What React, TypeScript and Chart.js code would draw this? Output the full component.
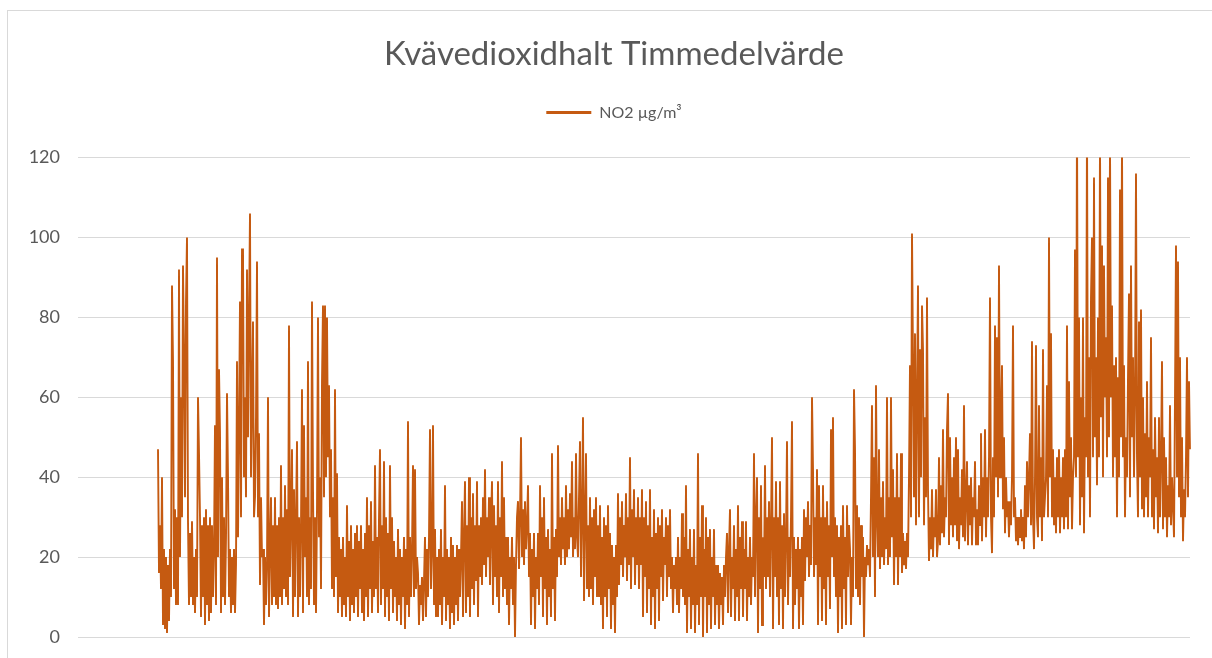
import React, { useEffect, useRef } from 'react';
import { Chart, registerables, layouts } from 'chart.js';

Chart.register(...registerables);

const chartTitle = 'Kvävedioxidhalt Timmedelvärde';
const seriesLabel = 'NO2 µg/m³';
const yAxisMin = 0;
const yAxisMax = 120;
const yAxisStep = 20;
const missingHoursAtStart = 80;

const no2Part1 = [
  47, 16, 28, 12, 40, 3, 22, 2, 20, 1, 18, 4, 22, 10, 88, 69, 12, 32, 8, 30,
  8, 92, 20, 60, 30, 93, 70, 35, 84, 100, 29, 8, 26, 10, 29, 8, 20, 6, 22, 10,
  60, 46, 30, 5, 28, 10, 30, 3, 32, 8, 28, 4, 30, 6, 28, 10, 22, 53, 8, 95,
  20, 67, 51, 6, 40, 10, 30, 8, 25, 61, 40, 10, 22, 6, 20, 8, 22, 6, 18, 69,
  25, 52, 84, 30, 97, 97, 40, 60, 35, 92, 50, 80, 106, 40, 60, 79, 30, 35, 55, 94,
  30, 51, 13, 35, 20, 22, 3, 20, 8, 18, 60, 5, 22, 35, 8, 28, 10, 35, 8, 28,
  7, 30, 10, 43, 8, 30, 12, 38, 10, 32, 8, 78, 15, 30, 47, 5, 37, 10, 30, 49,
  5, 30, 10, 28, 62, 6, 53, 20, 35, 10, 69, 8, 30, 12, 84, 37, 8, 30, 6, 32,
  80, 25, 40, 12, 64, 83, 35, 83, 40, 80, 45, 63, 30, 47, 12, 35, 10, 62, 15, 41,
];
const no2Part2 = [
  6, 25, 10, 22, 5, 25, 8, 20, 5, 33, 10, 24, 4, 28, 8, 22, 6, 26, 10, 28,
  5, 24, 12, 28, 6, 22, 4, 26, 10, 35, 5, 28, 12, 34, 6, 24, 10, 43, 12, 25,
  6, 30, 47, 8, 28, 12, 44, 5, 30, 10, 26, 4, 43, 12, 30, 6, 24, 10, 20, 4,
  27, 8, 22, 3, 20, 10, 25, 2, 22, 8, 54, 5, 25, 10, 22, 43, 10, 42, 12, 20,
  16, 3, 13, 8, 15, 4, 14, 25, 5, 22, 10, 25, 52, 12, 22, 53, 8, 27, 5, 20,
  5, 22, 8, 27, 3, 20, 10, 38, 4, 22, 8, 20, 2, 25, 6, 23, 3, 20, 8, 23,
  4, 22, 10, 20, 34, 5, 25, 39, 6, 28, 10, 40, 5, 30, 12, 36, 8, 28, 14, 39,
  5, 28, 15, 30, 13, 35, 18, 42, 15, 30, 20, 35, 13, 28, 39, 8, 33, 15, 28, 10,
  39, 6, 30, 15, 44, 10, 35, 12, 25, 8, 25, 3, 20, 12, 25, 8, 20, 0, 18, 30,
];
const no2Part3 = [
  34, 17, 30, 50, 20, 32, 18, 34, 22, 28, 38, 15, 26, 3, 22, 10, 26, 2, 20, 12,
  26, 8, 38, 15, 30, 5, 35, 12, 25, 3, 27, 10, 22, 5, 46, 12, 25, 4, 27, 15,
  48, 20, 30, 18, 35, 22, 30, 18, 38, 20, 32, 22, 36, 25, 44, 20, 30, 22, 46, 25,
  20, 35, 49, 15, 30, 55, 9, 30, 46, 12, 28, 10, 35, 12, 30, 8, 32, 15, 35, 10,
  28, 10, 33, 8, 25, 2, 30, 10, 28, 5, 33, 12, 26, 2, 23, 8, 20, 1, 23, 10,
  36, 13, 30, 18, 34, 15, 28, 20, 36, 14, 30, 18, 45, 12, 32, 20, 37, 13, 30, 18,
  35, 12, 30, 18, 37, 5, 30, 15, 34, 6, 28, 12, 37, 3, 25, 10, 32, 2, 26, 12,
  30, 4, 28, 15, 32, 9, 25, 18, 30, 10, 28, 15, 32, 12, 20, 6, 18, 12, 20, 8,
  25, 6, 20, 12, 31, 10, 25, 8, 38, 1, 22, 10, 27, 2, 20, 8, 27, 1, 18, 8,
];
const no2Part4 = [
  46, 3, 25, 10, 33, 0, 22, 10, 30, 1, 25, 8, 27, 2, 20, 10, 27, 3, 18, 8,
  18, 2, 16, 8, 15, 3, 18, 10, 20, 26, 6, 22, 32, 5, 20, 12, 28, 4, 22, 10,
  33, 4, 25, 12, 29, 5, 22, 12, 29, 4, 20, 10, 25, 8, 20, 15, 46, 10, 30, 40,
  1, 30, 12, 38, 3, 25, 15, 43, 12, 30, 15, 34, 10, 28, 50, 2, 30, 15, 39, 10,
  30, 3, 39, 12, 28, 2, 31, 10, 25, 49, 8, 25, 15, 30, 54, 2, 25, 8, 22, 12,
  25, 2, 22, 10, 25, 3, 32, 14, 30, 20, 34, 15, 28, 18, 60, 42, 15, 30, 18, 42,
  3, 38, 15, 30, 4, 38, 12, 30, 3, 34, 15, 28, 7, 52, 20, 55, 15, 30, 10, 28,
  1, 25, 10, 28, 2, 33, 12, 25, 3, 33, 15, 28, 22, 3, 20, 10, 62, 47, 12, 33,
  10, 30, 8, 28, 15, 25, 0, 20, 15, 23, 18, 22, 15, 35, 58, 20, 45, 10, 63, 30,
];
const no2Part5 = [
  20, 47, 17, 35, 20, 39, 18, 30, 22, 60, 18, 35, 20, 60, 25, 42, 13, 35, 20, 46,
  13, 35, 20, 46, 16, 26, 18, 24, 17, 26, 20, 40, 68, 30, 101, 69, 35, 76, 28, 60,
  88, 30, 72, 40, 83, 72, 28, 55, 35, 85, 37, 19, 30, 22, 37, 20, 30, 25, 37, 20,
  24, 45, 23, 38, 26, 52, 25, 35, 30, 52, 61, 23, 50, 28, 40, 25, 45, 28, 50, 24,
  47, 22, 35, 28, 42, 25, 58, 24, 35, 44, 23, 38, 28, 40, 23, 35, 30, 44, 23, 32,
  23, 38, 28, 51, 24, 40, 30, 52, 25, 40, 30, 45, 85, 30, 21, 45, 30, 78, 40, 75,
  35, 93, 40, 55, 68, 32, 50, 26, 40, 30, 34, 25, 34, 28, 40, 78, 30, 35, 24, 30,
  23, 30, 25, 32, 24, 30, 22, 38, 25, 44, 30, 40, 51, 28, 74, 30, 22, 40, 73, 30,
];
const no2Part6 = [
  25, 58, 30, 45, 24, 72, 30, 35, 40, 63, 30, 100, 40, 76, 30, 47, 28, 40, 26, 45,
  30, 47, 26, 40, 30, 45, 27, 47, 30, 78, 27, 64, 35, 50, 27, 40, 45, 97, 40, 130,
  45, 80, 28, 60, 35, 80, 26, 55, 45, 128, 40, 70, 30, 85, 100, 45, 115, 50, 70, 38,
  80, 45, 125, 55, 98, 40, 93, 60, 75, 45, 115, 50, 124, 60, 83, 40, 68, 45, 70, 30,
  65, 40, 112, 50, 125, 45, 68, 30, 50, 40, 65, 86, 35, 93, 50, 70, 40, 60, 116, 45,
  30, 79, 40, 82, 32, 60, 30, 51, 35, 64, 30, 50, 40, 75, 30, 47, 27, 55, 35, 45,
  26, 55, 30, 45, 69, 27, 50, 30, 45, 25, 38, 30, 58, 28, 40, 33, 25, 60, 98, 40,
  94, 35, 70, 30, 50, 24, 37, 30, 45, 70, 35, 64, 47,
];

const lineColor = '#C55A11';
const textColor = '#595959';
const gridColor = '#d9d9d9';
const fontFamily = 'Lato, "Open Sans", sans-serif';

const CANVAS_W = 1212;
const CANVAS_H = 690;

// Empty layout boxes that reserve space between the legend and the plot, and right of the plot.
const layoutSpacers = {
  id: 'layoutSpacers',
  beforeInit(chart: any) {
    const makeBox = (position: string, size: number) => {
      const box: any = {
        position,
        weight: 1,
        fullSize: false,
        options: {},
        left: 0,
        top: 0,
        right: 0,
        bottom: 0,
        width: 0,
        height: 0,
        isHorizontal() {
          return position === 'top' || position === 'bottom';
        },
        update(maxWidth: number, maxHeight: number) {
          if (position === 'top' || position === 'bottom') {
            box.width = maxWidth;
            box.height = size;
          } else {
            box.width = size;
            box.height = maxHeight;
          }
        },
        draw() {},
      };
      return box;
    };
    layouts.addBox(chart, makeBox('top', 27));
    layouts.addBox(chart, makeBox('right', 30));
  },
};

export default function App() {
  const canvasRef = useRef<HTMLCanvasElement | null>(null);

  useEffect(() => {
    const canvas = canvasRef.current;
    if (!canvas) return;
    const values: (number | null)[] = [
      ...new Array(missingHoursAtStart).fill(null),
      ...no2Part1,
      ...no2Part2,
      ...no2Part3,
      ...no2Part4,
      ...no2Part5,
      ...no2Part6,
    ];
    const labels = values.map((_, i) => String(i + 1));
    const defaultLabels = (Chart.defaults as any).plugins.legend.labels.generateLabels;

    const chart = new Chart(canvas, {
      type: 'line',
      data: {
        labels,
        datasets: [
          {
            label: seriesLabel,
            data: values,
            borderColor: lineColor,
            backgroundColor: lineColor,
            borderWidth: 1.9,
            pointRadius: 0,
            tension: 0,
            fill: false,
            spanGaps: false,
          },
        ],
      },
      options: {
        responsive: false,
        animation: false,
        events: [],
        layout: { padding: { top: 0, right: 0, bottom: 56, left: 0 } },
        plugins: {
          title: {
            display: true,
            text: chartTitle,
            color: textColor,
            font: { family: fontFamily, size: 33, weight: 'normal' },
            padding: { top: 24, bottom: 20 },
          },
          legend: {
            display: true,
            position: 'top',
            labels: {
              color: textColor,
              font: { family: fontFamily, size: 16 },
              boxWidth: 45,
              boxHeight: 3,
              padding: 10,
              generateLabels: (c: any) =>
                defaultLabels(c).map((item: any) => ({ ...item, lineWidth: 0 })),
            },
          },
          tooltip: { enabled: false },
        },
        scales: {
          x: {
            display: true,
            grid: { display: false },
            border: { display: false },
            ticks: { display: false },
          },
          y: {
            min: yAxisMin,
            max: yAxisMax,
            border: { display: false },
            grid: { color: gridColor, lineWidth: 1, drawTicks: false },
            ticks: {
              stepSize: yAxisStep,
              color: textColor,
              padding: 18,
              font: { family: fontFamily, size: 18 },
            },
            afterFit: (scale: any) => {
              scale.width = 70;
            },
          },
        },
      },
      plugins: [layoutSpacers],
    });
    return () => chart.destroy();
  }, []);

  return (
    <div
      style={{
        position: 'fixed',
        left: 7,
        top: 10,
        width: CANVAS_W + 20,
        height: CANVAS_H,
        borderLeft: '1px solid #d9d9d9',
        borderTop: '1px solid #d9d9d9',
        background: '#ffffff',
      }}
    >
      <canvas
        ref={canvasRef}
        width={CANVAS_W}
        height={CANVAS_H}
        style={{ display: 'block', width: CANVAS_W, height: CANVAS_H }}
      />
    </div>
  );
}
